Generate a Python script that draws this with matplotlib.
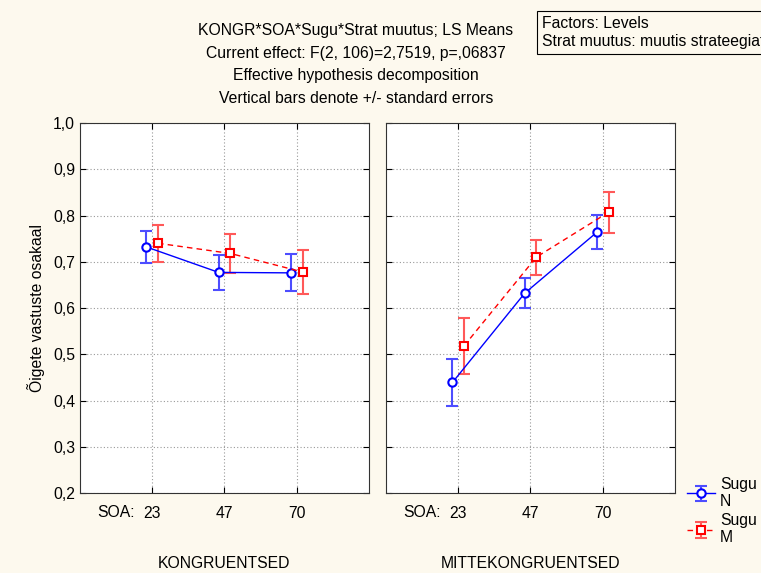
import numpy as np
import matplotlib.pyplot as plt
from matplotlib.ticker import FuncFormatter

plt.rcParams['font.family'] = ['Liberation Sans', 'DejaVu Sans']

soa = ['23', '47', '70']
panels = ['KONGRUENTSED', 'MITTEKONGRUENTSED']

# LS means and standard errors, per panel
n_mean = [[0.732, 0.677, 0.676], [0.439, 0.632, 0.764]]
n_se = [[0.034, 0.037, 0.040], [0.051, 0.033, 0.037]]
m_mean = [[0.740, 0.718, 0.678], [0.518, 0.710, 0.807]]
m_se = [[0.040, 0.043, 0.047], [0.060, 0.038, 0.044]]

titles = ['KONGR*SOA*Sugu*Strat muutus; LS Means',
          'Current effect: F(2, 106)=2,7519, p=,06837',
          'Effective hypothesis decomposition',
          'Vertical bars denote +/- standard errors']

bg = '#fdf9ee'
fs = 11.3
fig = plt.figure(figsize=(7.61, 5.73), dpi=100, facecolor=bg)

x = np.arange(3)
off = 0.08
handles = []
for i in range(2):
    ax = fig.add_axes([0.1051 + i * 0.4021, 0.1396, 0.3798, 0.6457])
    ax.set_facecolor('white')
    hn = ax.errorbar(x - off, n_mean[i], yerr=n_se[i], color='blue', lw=1,
                     marker='o', ms=6, mfc='white', mew=1.5, capsize=4,
                     ecolor=(0.3, 0.3, 1.0), elinewidth=1.5)
    hm = ax.errorbar(x + off, m_mean[i], yerr=m_se[i], color='red', lw=1,
                     ls=(0, (4, 3)), marker='s', ms=6, mfc='white', mew=1.5,
                     capsize=4, ecolor=(1.0, 0.35, 0.35), elinewidth=1.5)
    handles = [hn, hm]
    ax.set_xlim(-1, 3)
    ax.set_ylim(0.2, 1.0)
    ax.set_xticks(x)
    ax.set_xticklabels(soa)
    ax.set_yticks(np.arange(0.2, 1.01, 0.1))
    ax.yaxis.set_major_formatter(FuncFormatter(lambda v, p: f'{v:.1f}'.replace('.', ',')))
    ax.grid(True, ls=(0, (1, 2)), color='#999999', lw=0.8)
    ax.tick_params(direction='in', top=True, right=True, length=4, labelsize=fs)
    ax.tick_params(axis='x', pad=9)
    if i == 1:
        ax.tick_params(labelleft=False)
    else:
        ax.set_ylabel('Õigete vastuste osakaal', fontsize=fs, labelpad=6)
    for s in ax.spines.values():
        s.set_color('#333333')
    ax.text(-0.5, -0.052, 'SOA:', transform=ax.get_xaxis_transform(),
            ha='center', va='center', fontsize=fs)
    ax.text(1, -0.19, panels[i], transform=ax.get_xaxis_transform(),
            ha='center', va='center', fontsize=fs)

for k, t in enumerate(titles):
    fig.text(0.4675, 0.9476 - k * 0.0401, t, ha='center', va='center', fontsize=fs)

fig.text(0.712, 0.943, 'Factors: Levels\nStrat muutus: muutis strateegiat',
         ha='left', va='center', fontsize=fs, linespacing=1.3,
         bbox=dict(boxstyle='square,pad=0.3', fc=bg, ec='black', lw=0.8))

fig.legend(handles, ['Sugu\nN', 'Sugu\nM'], loc='lower left',
           bbox_to_anchor=(0.903, 0.048), frameon=False, fontsize=fs,
           handlelength=1.8, handletextpad=0.3, labelspacing=0.25,
           borderaxespad=0, borderpad=0)

fig.savefig('out.png', dpi=100, facecolor=bg)
